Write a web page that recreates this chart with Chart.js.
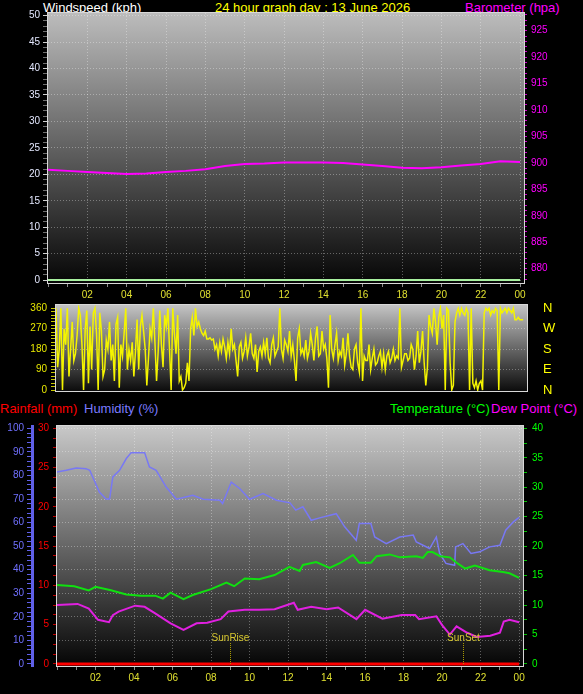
<!DOCTYPE html>
<html>
<head>
<meta charset="utf-8">
<script src="https://cdn.jsdelivr.net/npm/chart.js@4/dist/chart.umd.min.js"></script>
<style>
  body { margin: 0; background: #000; width: 583px; height: 694px; position: relative; overflow: hidden;
         font-family: 'Liberation Sans', Arial, sans-serif; }
  canvas { position: absolute; left: 0; }
  .t { position: absolute; font-size: 13px; line-height: 15px; white-space: nowrap; }
</style>
</head>
<body>
<div class="t" style="left:43px;top:0;color:#ffffff">Windspeed (kph)</div>
<div class="t" style="left:215px;top:0;color:#ffff00">24 hour graph day : 13 June 2026</div>
<div class="t" style="left:465px;top:0;color:#ff00ff">Barometer (hpa)</div>
<div class="t" style="left:0;top:401px;color:#ff0000">Rainfall (mm)</div>
<div class="t" style="left:84px;top:401px;color:#7b7bff">Humidity (%)</div>
<div class="t" style="left:390px;top:401px;color:#00ff00">Temperature (°C)</div>
<div class="t" style="left:491px;top:401px;color:#ff00ff">Dew Point (°C)</div>

<canvas id="top" width="583" height="300" style="top:0"></canvas>
<canvas id="dir" width="583" height="104" style="top:296px"></canvas>
<canvas id="bottom" width="583" height="294" style="top:400px"></canvas>

<script>
// --- DADOS ---
const baroHours  = [0, 1, 2, 3, 4, 5, 6, 7, 8, 9, 10, 11, 12, 13, 14, 15, 16, 17, 18, 19, 20, 21, 22, 23, 24];
const baroValues = [898.7, 898.5, 898.3, 898.1, 897.9, 898.0, 898.3, 898.5, 898.8, 899.4, 899.8, 899.9, 900.1,
                    900.1, 900.1, 900.0, 899.7, 899.4, 899.1, 899.0, 899.2, 899.5, 899.8, 900.3, 900.2];

const windHours  = [0, 24];
const windValues = [0, 0];

// direção do vento, uma leitura a cada 5 minutos
const windDirDeg = [
  360, 100, 180, 360, 0, 270, 200, 360, 60, 180, 300, 130,
  160, 240, 360, 330, 200, 0, 270, 350, 30, 280, 90, 340,
  360, 250, 0, 340, 260, 60, 90, 220, 180, 300, 130, 200,
  40, 290, 320, 10, 200, 150, 250, 360, 90, 180, 130, 210,
  60, 170, 310, 90, 280, 330, 260, 180, 20, 140, 270, 230,
  360, 210, 40, 170, 350, 200, 100, 330, 280, 360, 180, 0,
  360, 250, 160, 330, 40, 60, 0, 10, 30, 120, 40, 270,
  320, 240, 360, 280, 300, 270, 250, 240, 260, 225, 225, 230,
  220, 225, 180, 200, 150, 210, 170, 225, 190, 140, 210, 160,
  270, 180, 200, 130, 60, 190, 210, 140, 170, 230, 150, 190,
  250, 160, 140, 200, 80, 170, 190, 150, 210, 160, 230, 140,
  120, 200, 230, 150, 170, 190, 360, 180, 140, 220, 200, 170,
  260, 150, 200, 130, 40, 230, 270, 160, 180, 150, 220, 140,
  170, 250, 200, 130, 230, 280, 150, 160, 260, 180, 200, 140,
  10, 330, 180, 140, 200, 250, 130, 170, 150, 230, 110, 160,
  250, 150, 100, 90, 180, 200, 120, 80, 360, 40, 150, 130,
  130, 200, 90, 140, 180, 110, 120, 150, 170, 100, 160, 90,
  150, 170, 120, 140, 180, 130, 150, 140, 360, 100, 130, 160,
  160, 130, 140, 200, 180, 90, 150, 260, 120, 170, 260, 120,
  20, 100, 330, 280, 250, 360, 300, 200, 320, 360, 270, 330,
  0, 360, 350, 120, 0, 20, 300, 340, 360, 330, 360, 340,
  330, 360, 340, 0, 360, 30, 10, 40, 0, 30, 40, 0,
  340, 360, 350, 360, 330, 350, 340, 360, 350, 0, 360, 340,
  350, 360, 340, 360, 350, 340, 360, 310, 310, 320, 310, 310,
  310
];
const compassLabels = { 0: 'N', 90: 'E', 180: 'S', 270: 'W', 360: 'N' };

const tempHours  = [0, 0.9, 1.65, 2, 2.8, 3.6, 4.35, 5.1, 5.5, 5.9, 6.57, 7.05, 8.0, 8.8, 9.2, 9.75, 10.5, 11.3,
                    12.07, 12.6, 12.77, 13.46, 14.16, 14.68, 15.37, 15.7, 16.3, 16.6, 17.27, 17.8, 18.66, 19.0,
                    19.25, 19.5, 19.9, 20.4, 20.7, 21.2, 21.7, 22.47, 23.16, 23.5, 24.0];
const tempValues = [13.4, 13.2, 12.5, 13.1, 12.5, 11.8, 11.6, 11.6, 11.1, 12.1, 11.0, 11.7, 12.7, 13.8, 13.2, 14.5,
                    14.4, 15.1, 16.5, 15.8, 16.8, 17.3, 16.3, 17.1, 18.5, 17.2, 17.2, 18.3, 18.6, 18.1, 18.3, 18.0,
                    19.0, 19.0, 18.3, 18.1, 17.3, 16.2, 16.7, 15.9, 15.6, 15.4, 14.6];

const dewHours  = [0, 1.07, 1.65, 2.13, 2.7, 2.9, 3.2, 4.06, 4.55, 5.1, 5.9, 6.57, 7.25, 7.8, 8.5, 8.9, 9.75, 10.5,
                   11.3, 12.3, 12.5, 13.2, 14.0, 14.6, 15.55, 16.0, 16.9, 17.9, 18.6, 18.8, 19.7, 20.0, 20.4,
                   20.75, 21.3, 21.8, 22.5, 23.0, 23.2, 23.5, 24.0];
const dewValues = [10.0, 10.2, 9.4, 7.5, 7.1, 8.3, 8.9, 9.9, 9.7, 8.6, 6.9, 5.8, 6.9, 7.0, 7.6, 8.9, 9.2, 9.2,
                   9.3, 10.4, 9.2, 9.7, 9.3, 9.6, 7.6, 9.2, 7.7, 8.3, 8.3, 7.6, 8.1, 6.6, 5.0,
                   6.4, 5.3, 4.6, 4.8, 5.3, 7.2, 7.5, 7.1];

const humHours  = [0, 0.48, 1.0, 1.5, 1.7, 2.2, 2.55, 2.73, 2.9, 3.25, 3.6, 3.85, 4.55, 4.8, 5.15, 5.67, 6.2, 7.05,
                   7.6, 8.45, 8.6, 9.05, 9.5, 10.0, 10.7, 11.4, 12.1, 12.4, 12.77, 13.2, 13.64, 14.5, 14.94, 15.54,
                   15.7, 16.3, 16.5, 17.1, 17.8, 18.5, 18.66, 19.35, 19.7, 19.87, 20.2, 20.65, 20.7, 21.08, 21.5,
                   21.95, 22.47, 23.0, 23.3, 23.7, 24.0];
const humValues = [81.5, 82.2, 83.2, 82.9, 82.2, 73.0, 70.0, 70.0, 79.4, 82.2, 87.2, 89.7, 89.7, 83.6, 82.2, 75.1,
                   69.9, 71.6, 69.9, 69.5, 68.1, 77.2, 74.4, 69.9, 72.3, 69.5, 68.4, 65.3, 66.7, 61.0, 62.0, 63.8,
                   58.2, 52.5, 59.6, 59.6, 53.9, 51.1, 53.9, 54.7, 51.8, 49.0, 53.9, 46.9, 42.7, 41.9, 49.7, 51.1,
                   46.9, 47.6, 49.7, 50.4, 56.8, 60.3, 62.2];

const rainHours  = [0, 24];
const rainValues = [0, 0];

const sunriseHour = 8.97;
const sunsetHour  = 21.07;

// --- CONFIGURAÇÃO GERAL ---
Chart.defaults.font.family = "'Liberation Sans', Arial, sans-serif";
Chart.defaults.font.size = 10;
Chart.defaults.animation = false;
Chart.defaults.plugins.legend.display = false;
Chart.defaults.plugins.tooltip.enabled = false;
Chart.defaults.elements.point.radius = 0;
Chart.defaults.elements.line.tension = 0;

const GRID = 'rgba(255,255,255,0.33)';

function range(a, b, step) {
  const out = [];
  for (let v = a; v <= b + 1e-9; v += step) out.push(+v.toFixed(3));
  return out;
}
function toPoints(xs, ys) { return xs.map((x, i) => ({ x: x, y: ys[i] })); }
function multipleOf(v, step) { return Math.abs(v / step - Math.round(v / step)) < 1e-6; }
function setTicks(values) { return s => { s.ticks = values.map(v => ({ value: v })); }; }
// largura fixa do eixo, sem a folga extra que o Chart.js reserva para os rótulos
function fixWidth(w) { return s => { s.width = w; s.paddingTop = 0; s.paddingBottom = 0; }; }

// fundo em degradê + moldura da área do gráfico
const plotBg = {
  id: 'plotBg',
  beforeDraw(chart, args, opts) {
    const { ctx, chartArea: a } = chart;
    const g = ctx.createLinearGradient(0, a.top, 0, a.bottom);
    g.addColorStop(0, opts.top);
    g.addColorStop(1, opts.bottom);
    ctx.save();
    ctx.fillStyle = g;
    ctx.fillRect(a.left, a.top, a.right - a.left, a.bottom - a.top);
    ctx.restore();
  },
  beforeDatasetsDraw(chart) {
    const { ctx, chartArea: a } = chart;
    ctx.save();
    ctx.strokeStyle = '#d8d8d8';
    ctx.lineWidth = 1;
    ctx.strokeRect(a.left - 0.5, a.top - 0.5, a.right - a.left + 1, a.bottom - a.top + 1);
    ctx.restore();
  }
};

// marcadores de nascer e pôr do sol
const sunMarks = {
  id: 'sunMarks',
  afterDatasetsDraw(chart) {
    const { ctx } = chart;
    const x = chart.scales.x, y = chart.scales.hum;
    const base = y.getPixelForValue(0);
    ctx.save();
    ctx.strokeStyle = '#a89a00';
    ctx.fillStyle = '#d8c830';
    ctx.lineWidth = 1;
    ctx.setLineDash([1, 1]);
    ctx.font = "10px 'Liberation Sans', Arial, sans-serif";
    ctx.textAlign = 'center';
    [[sunriseHour, 'SunRise'], [sunsetHour, 'SunSet']].forEach(([h, txt]) => {
      const px = Math.round(x.getPixelForValue(h)) + 0.5;
      ctx.beginPath();
      ctx.moveTo(px, base - 21);
      ctx.lineTo(px, base);
      ctx.stroke();
      ctx.fillText(txt, px, base - 23);
    });
    ctx.restore();
  }
};

function timeAxis(height, color) {
  return {
    type: 'linear', min: 0, max: 24.2,
    afterBuildTicks: setTicks(range(0, 24, 1)),
    afterFit: s => { s.height = height; },
    ticks: {
      color: color, autoSkip: false, maxRotation: 0, padding: 2,
      callback: v => (v > 0 && v % 2 === 0) ? String(v % 24).padStart(2, '0') : ''
    },
    grid: {
      color: c => (c.tick && c.tick.value > 0 && c.tick.value % 2 === 0) ? GRID : 'transparent',
      tickColor: '#8a8a8a', tickWidth: 1, tickLength: 4
    },
    border: { display: false, dash: [1, 2] }
  };
}

// --- GRÁFICO 1: VENTO E PRESSÃO ---
new Chart(document.getElementById('top'), {
  type: 'line',
  data: {
    datasets: [
      { data: toPoints(baroHours, baroValues), yAxisID: 'baro', borderColor: '#ff00ff', borderWidth: 2 },
      { data: toPoints(windHours, windValues), yAxisID: 'wind', borderColor: '#a8f0a0', borderWidth: 2 }
    ]
  },
  options: {
    responsive: false,
    layout: { padding: { top: 13 } },
    plugins: { plotBg: { top: '#bcbcbc', bottom: '#060606' } },
    scales: {
      x: timeAxis(17, '#e0e030'),
      wind: {
        type: 'linear', position: 'left', min: -0.55, max: 50.5,
        afterBuildTicks: setTicks(range(0, 50, 1)),
        afterFit: fixWidth(48),
        ticks: { color: '#e4e8ff', autoSkip: false, padding: 3, callback: v => multipleOf(v, 5) ? String(v) : '' },
        grid: {
          color: c => (c.tick && c.tick.value > 0 && multipleOf(c.tick.value, 5)) ? GRID : 'transparent',
          tickColor: c => (c.tick && multipleOf(c.tick.value, 5)) ? '#d0d0d0' : '#707070',
          tickWidth: 1, tickLength: 5
        },
        border: { display: false, dash: [1, 2] }
      },
      baro: {
        type: 'linear', position: 'right', min: 877.3, max: 928.35,
        afterBuildTicks: setTicks(range(878, 928, 1)),
        afterFit: fixWidth(59),
        ticks: { color: '#ff00ff', autoSkip: false, padding: 4, callback: v => multipleOf(v, 5) ? String(v) : '' },
        grid: { drawOnChartArea: false, tickColor: '#d000d0', tickWidth: 1, tickLength: 3 },
        border: { display: false }
      }
    }
  },
  plugins: [plotBg]
});

// --- GRÁFICO 2: DIREÇÃO DO VENTO ---
new Chart(document.getElementById('dir'), {
  type: 'line',
  data: {
    datasets: [
      { data: windDirDeg.map((d, i) => ({ x: i / 12, y: d })), yAxisID: 'deg', borderColor: '#f4f400', borderWidth: 1.5 }
    ]
  },
  options: {
    responsive: false,
    layout: { padding: { top: 9, bottom: 9 } },
    plugins: { plotBg: { top: '#c4c4c4', bottom: '#0c0c0c' } },
    scales: {
      x: { type: 'linear', min: 0, max: 24.2, display: false },
      deg: {
        type: 'linear', position: 'left', min: -4.4, max: 374.5,
        afterBuildTicks: setTicks(range(0, 360, 15)),
        afterFit: fixWidth(56),
        ticks: { color: '#e8e800', autoSkip: false, padding: 4, callback: v => multipleOf(v, 90) ? String(v) : '' },
        grid: {
          color: c => (c.tick && c.tick.value > 0 && c.tick.value < 360 && multipleOf(c.tick.value, 90)) ? GRID : 'transparent',
          tickColor: '#c8c800', tickWidth: 1, tickLength: 5
        },
        border: { display: false, dash: [1, 2] }
      },
      compass: {
        type: 'linear', position: 'right', min: -4.4, max: 374.5,
        afterBuildTicks: setTicks([0, 90, 180, 270, 360]),
        afterFit: fixWidth(56),
        ticks: { color: '#ffff00', font: { size: 13 }, autoSkip: false, padding: 16, callback: v => compassLabels[v] },
        grid: { drawOnChartArea: false, drawTicks: false },
        border: { display: false }
      }
    }
  },
  plugins: [plotBg]
});

// --- GRÁFICO 3: CHUVA, UMIDADE, TEMPERATURA E PONTO DE ORVALHO ---
new Chart(document.getElementById('bottom'), {
  type: 'line',
  data: {
    datasets: [
      { data: toPoints(rainHours, rainValues), yAxisID: 'rain', borderColor: '#ff0000', borderWidth: 3 },
      { data: toPoints(tempHours, tempValues), yAxisID: 'temp', borderColor: '#10e010', borderWidth: 2 },
      { data: toPoints(dewHours, dewValues), yAxisID: 'temp', borderColor: '#e020e0', borderWidth: 2 },
      { data: toPoints(humHours, humValues), yAxisID: 'hum', borderColor: '#7878f4', borderWidth: 1.5 }
    ]
  },
  options: {
    responsive: false,
    layout: { padding: { top: 26 } },
    plugins: { plotBg: { top: '#c8c8c8', bottom: '#050505' } },
    scales: {
      x: timeAxis(28, '#e0e030'),
      hum: {
        type: 'linear', position: 'left', weight: 1, min: -0.85, max: 101,
        afterBuildTicks: setTicks(range(0, 100, 2)),
        afterFit: fixWidth(32),
        ticks: { color: '#7070ff', autoSkip: false, padding: 3, callback: v => multipleOf(v, 10) ? String(v) : '' },
        grid: {
          color: c => (c.tick && c.tick.value > 0 && multipleOf(c.tick.value, 10)) ? GRID : 'transparent',
          tickColor: '#6060e8', tickWidth: 1, tickLength: 5
        },
        border: { display: true, color: '#6060e8', width: 3, dash: [1, 2] }
      },
      rain: {
        type: 'linear', position: 'left', weight: 0, min: -0.255, max: 30.29,
        afterBuildTicks: setTicks(range(0, 30, 1.25)),
        afterFit: fixWidth(25),
        ticks: { color: '#ff0000', autoSkip: false, padding: 4, callback: v => multipleOf(v, 5) ? String(v) : '' },
        grid: { drawOnChartArea: false, tickColor: '#c00000', tickWidth: 1, tickLength: 4 },
        border: { display: false }
      },
      temp: {
        type: 'linear', position: 'right', min: -0.34, max: 40.39,
        afterBuildTicks: setTicks(range(0, 40, 2.5)),
        afterFit: fixWidth(60),
        ticks: { color: '#00ff00', autoSkip: false, padding: 5, callback: v => multipleOf(v, 5) ? String(v) : '' },
        grid: { drawOnChartArea: false, tickColor: '#00c000', tickWidth: 1, tickLength: 4 },
        border: { display: false }
      }
    }
  },
  plugins: [plotBg, sunMarks]
});
</script>
</body>
</html>
